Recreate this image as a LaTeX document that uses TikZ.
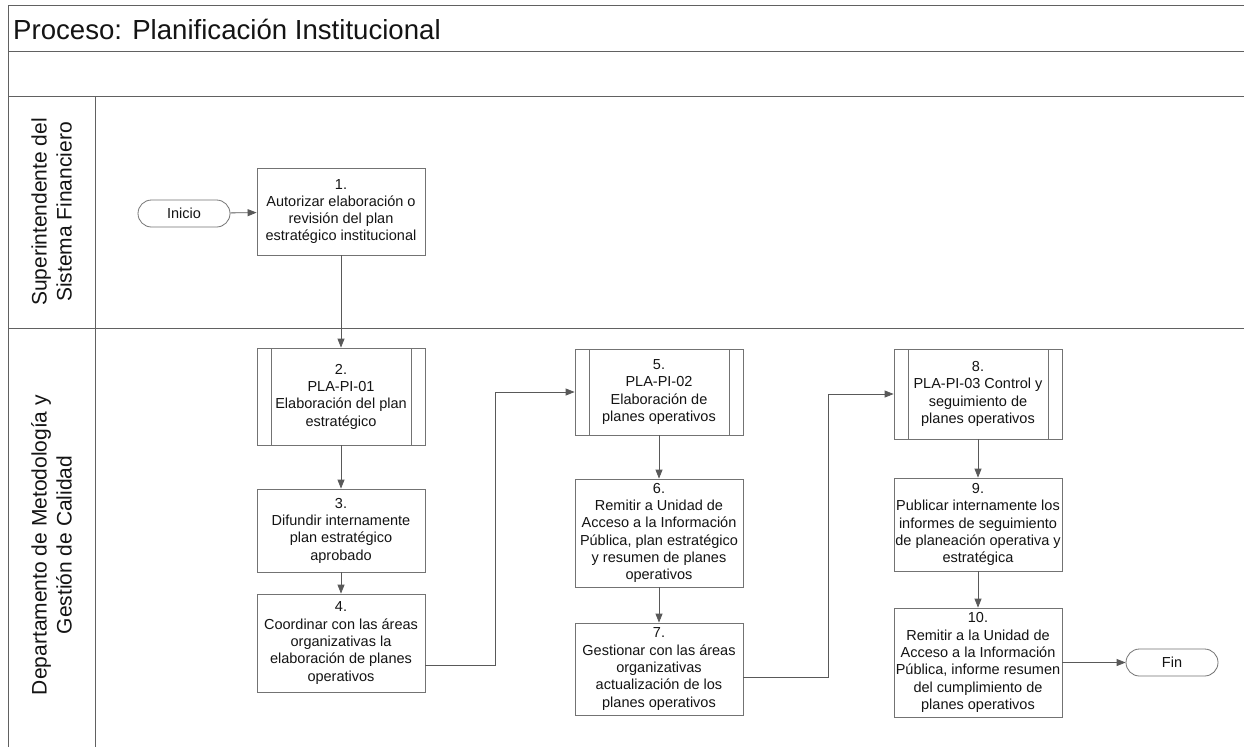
\documentclass[tikz,border=0pt]{standalone}
\usepackage{fontspec}
\setmainfont{Liberation Sans}
\usetikzlibrary{arrows.meta,calc}
\begin{document}
\begin{tikzpicture}[x=1pt,y=1pt,
  frameline/.style={draw=black!62, line width=0.9pt},
  task/.style={draw=black!55, line width=0.8pt, minimum width=168pt, inner sep=0pt,
    align=center, font=\fontsize{14.5}{17.3}\selectfont, text=black!92},
  subproc/.style={task, path picture={
      \draw[black!55, line width=0.8pt]
        ([xshift=14pt]path picture bounding box.north west) -- ([xshift=14pt]path picture bounding box.south west)
        ([xshift=-14pt]path picture bounding box.north east) -- ([xshift=-14pt]path picture bounding box.south east);}},
  term/.style={draw=black!55, line width=0.8pt, rounded corners=13.5pt, minimum width=92pt,
    minimum height=27pt, inner sep=0pt, font=\fontsize{14.5}{17}\selectfont, text=black!92},
  conn/.style={draw=black!65, line width=0.8pt, -{Triangle[length=9pt,width=7pt]}},
  lanelabel/.style={rotate=90, align=center, font=\fontsize{21}{25}\selectfont, text=black!92},
]
\useasboundingbox (0,0) rectangle (1244,-747);
\fill[white] (0,0) rectangle (1244,-747);

% frame
\draw[frameline] (1244,-5) -- (8,-5) -- (8,-747);
\draw[frameline] (8,-51) -- (1244,-51);
\draw[frameline] (8,-96) -- (1244,-96);
\draw[frameline] (8,-328) -- (1244,-328);
\draw[frameline] (95,-96) -- (95,-747);

\node[anchor=west, font=\fontsize{27.6}{30}\selectfont, text=black!92, inner sep=0pt] (title) at (13,-29) {Proceso: Planificación Institucional};

\node[lanelabel] (lane1) at (51.5,-212) {Superintendente del\\Sistema Financiero};
\node[lanelabel] (lane2) at (51.5,-545) {Departamento de Metodología y\\Gestión de Calidad};

% nodes
\node[term] (ini) at (184,-213.5) {Inicio};
\node[task, minimum height=87pt] (b1) at (341,-211.5) {1.\\Autorizar elaboración o\\revisión del plan\\estratégico institucional};
\node[subproc, minimum height=97pt] (b2) at (341,-396.5) {2.\\PLA-PI-01\\Elaboración del plan\\estratégico};
\node[task, minimum height=83pt] (b3) at (341,-530.5) {3.\\Difundir internamente\\plan estratégico\\aprobado};
\node[task, minimum height=98pt] (b4) at (341,-643) {4.\\Coordinar con las áreas\\organizativas la\\elaboración de planes\\operativos};

\node[subproc, minimum height=86pt] (b5) at (659,-392) {5.\\PLA-PI-02\\Elaboración de\\planes operativos};
\node[task, minimum height=108pt] (b6) at (659,-533) {6.\\Remitir a Unidad de\\Acceso a la Información\\Pública, plan estratégico\\y resumen de planes\\operativos};
\node[task, minimum height=92pt] (b7) at (659,-669) {7.\\Gestionar con las áreas\\organizativas\\actualización de los\\planes operativos};

\node[subproc, minimum height=90pt] (b8) at (978,-394) {8.\\PLA-PI-03 Control y\\seguimiento de\\planes operativos};
\node[task, minimum height=93pt] (b9) at (978,-524.5) {9.\\Publicar internamente los\\informes de seguimiento\\de planeación operativa y\\estratégica};
\node[task, minimum height=109pt] (b10) at (978,-662.5) {10.\\Remitir a la Unidad de\\Acceso a la Información\\Pública, informe resumen\\del cumplimiento de\\planes operativos};
\node[term] (fin) at (1172,-662.5) {Fin};

% connectors
\draw[conn] (ini) -- (b1);
\draw[conn] (b1) -- (b2);
\draw[conn] (b2) -- (b3);
\draw[conn] (b3) -- (b4);
\draw[conn] ([yshift=-22pt]b4.east) -- ++(70,0) |- (b5.west);
\draw[conn] (b5) -- (b6);
\draw[conn] (b6) -- (b7);
\draw[conn] ([yshift=-8pt]b7.east) -- ++(85,0) |- (b8.west);
\draw[conn] (b8) -- (b9);
\draw[conn] (b9) -- (b10);
\draw[conn] (b10.east |- fin.west) -- (fin.west);
\end{tikzpicture}
\end{document}
